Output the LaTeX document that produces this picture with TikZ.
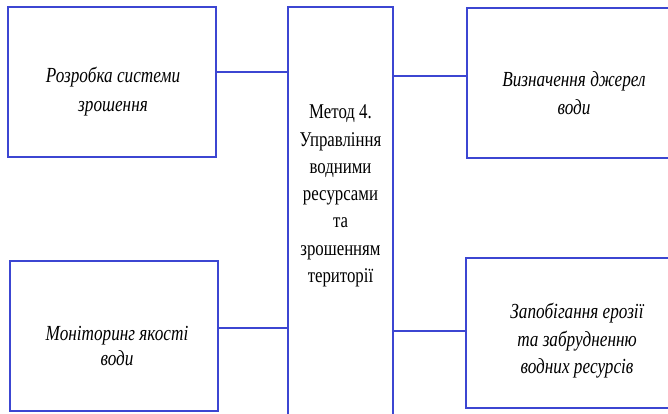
\documentclass[tikz,border=0pt]{standalone}
\usepackage{fontspec}
\setmainfont{Liberation Serif}
\newfontfamily\cond[FakeStretch=0.8]{Liberation Serif}
\definecolor{lineblue}{RGB}{60,70,210}
\begin{document}
\begin{tikzpicture}[x=1pt,y=-1pt,
  box/.style={draw=lineblue,line width=2pt,rectangle,inner sep=0pt,outer sep=0pt},
  txt/.style={align=center,inner sep=0pt,font=\fontsize{21.5}{29}\cond\itshape},
  ctxt/.style={align=center,inner sep=0pt,font=\fontsize{21}{27.3}\cond},
  conn/.style={draw=lineblue,line width=2pt}]
\clip (0,0) rectangle (668,413);
\fill[white] (0,0) rectangle (668,413);
\node[box,minimum width=208pt,minimum height=150pt] (b1) at (112,82) {};
\node[box,minimum width=213pt,minimum height=150pt] (b2) at (573.5,83) {};
\node[box,minimum width=208pt,minimum height=150pt] (b3) at (114,336) {};
\node[box,minimum width=214pt,minimum height=150pt] (b4) at (573,333) {};
\node[box,minimum width=105pt,minimum height=418pt] (m) at (340.5,216) {};
\node[txt] (t1) at (113,92) {Розробка системи\\зрошення};
\node[txt,font=\fontsize{21.5}{28}\cond\itshape] (t2) at (574,93) {Визначення джерел\\води};
\node[txt,font=\fontsize{21.5}{25.5}\cond\itshape] (t3) at (117,346) {Моніторинг якості\\води};
\node[txt,font=\fontsize{21.5}{27.5}\cond\itshape] (t4) at (577,341) {Запобігання ерозії\\та забрудненню\\водних ресурсів};
\node[ctxt] (tm) at (340.5,196) {Метод 4.\\Управління\\водними\\ресурсами\\та\\зрошенням\\території};
\coordinate (y1) at (0,72);
\coordinate (y2) at (0,76);
\coordinate (y3) at (0,328);
\coordinate (y4) at (0,331);
\draw[conn] (b1.east|-y1) -- (m.west|-y1);
\draw[conn] (m.east|-y2) -- (b2.west|-y2);
\draw[conn] (b3.east|-y3) -- (m.west|-y3);
\draw[conn] (m.east|-y4) -- (b4.west|-y4);
\end{tikzpicture}
\end{document}
